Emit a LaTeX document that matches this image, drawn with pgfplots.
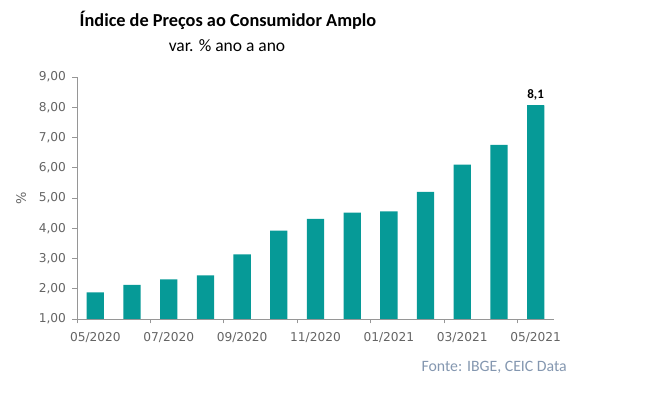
\documentclass[border=0pt]{standalone}
\usepackage{pgfplots}
\pgfplotsset{compat=1.18}
\usepackage{fontspec}
\setmainfont{Carlito}
\newfontfamily\tickfont{DejaVu Sans}
\definecolor{barteal}{RGB}{6,154,151}
\definecolor{tickgray}{RGB}{100,100,100}
\definecolor{axgray}{RGB}{150,150,150}
\definecolor{fonte}{RGB}{132,151,176}
\begin{document}
\begin{tikzpicture}[x=1pt,y=1pt]
\useasboundingbox (0,0) rectangle (646,393);
\begin{axis}[
  scale only axis,
  width=477pt, height=242pt,
  at={(77pt,74pt)}, anchor=south west,
  xmin=-0.5, xmax=12.5, ymin=1, ymax=9,
  axis x line*=bottom, axis y line*=left,
  axis line style={axgray, line width=0.7pt},
  tick align=outside,
  major tick length=4.5pt,
  tick style={axgray, line width=0.7pt},
  xtick={-0.5,1.5,3.5,5.5,7.5,9.5,11.5},
  xticklabels={},
  extra x ticks={0,2,4,6,8,10,12},
  extra x tick labels={05/2020,07/2020,09/2020,11/2020,01/2021,03/2021,05/2021},
  extra x tick style={major tick length=0pt, tick style={draw=none}},
  ytick={1,2,...,9},
  yticklabel style={xshift=-3pt, /pgf/number format/.cd, use comma, fixed, fixed zerofill, precision=2},
  /pgf/number format/assume math mode=true,
  tick label style={font=\tickfont\fontsize{12.2}{14}\selectfont, text=tickgray},
  xticklabel style={yshift=-10pt},
  every axis y label/.style={at={(ticklabel cs:0.5)}, rotate=90, anchor=near ticklabel},
  ylabel={\%},
  ylabel style={font=\tickfont\fontsize{13}{15}\selectfont, text=tickgray, yshift=6pt},
  clip=false,
]
\addplot[ybar, bar width=17.3pt, fill=barteal, draw=none] coordinates {
 (0,1.88) (1,2.13) (2,2.31) (3,2.44) (4,3.14) (5,3.92) (6,4.31)
 (7,4.52) (8,4.56) (9,5.20) (10,6.10) (11,6.76) (12,8.06)
};
\addplot[ybar, bar width=17.3pt, fill=barteal, draw=none,
  nodes near coords={8,1},
  every node near coord/.append style={font=\bfseries\fontsize{13}{15}\selectfont, text=black, yshift=2pt}]
  coordinates {(12,8.06)};
\end{axis}
\node[font=\bfseries\fontsize{18.3}{21}\selectfont] at (228,373) {Índice de Preços ao Consumidor Amplo};
\node[font=\fontsize{17.5}{20}\selectfont] at (227,347) {var. \% ano a ano};
\node[font=\fontsize{15.8}{18}\selectfont, text=fonte, anchor=east, inner sep=0pt] at (567,26) {Fonte: IBGE, CEIC Data};
\end{tikzpicture}
\end{document}
